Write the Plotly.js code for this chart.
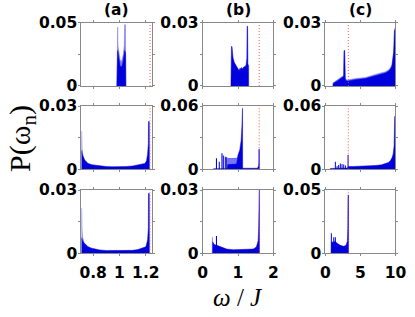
<!DOCTYPE html>
<html><head><meta charset="utf-8">
<script src="https://cdn.plot.ly/plotly-3.0.1.min.js"></script>
<style>html,body{margin:0;padding:0;background:#fff}#chart{width:415px;height:317px}</style>
</head><body><div id="chart"></div>
<script>
// ---------- data ----------
const colLabels = ['(a)', '(b)', '(c)'];
const xTickVals = [[0.8, 1, 1.2], [0, 1, 2], [0, 5, 10]];
const xTickText = [['0.8', '1', '1.2'], ['0', '1', '2'], ['0', '5', '10']];
const yMax = [0.05, 0.03, 0.03, 0.03, 0.06, 0.06, 0.03, 0.03, 0.05];
const yTopText = ['0.05', '0.03', '0.03', '0.03', '0.06', '0.06', '0.03', '0.03', '0.05'];
const redLines = [1.232, 1.60, 3.28];

// panel a1
const a1DarkX = [0.980, 0.981, 0.986, 0.992, 0.998, 1.004, 1.012, 1.020, 1.027, 1.033, 1.040, 1.046, 1.048];
const a1DarkY = [0, 0.026, 0.028, 0.024, 0.019, 0.016, 0.015, 0.016, 0.019, 0.024, 0.028, 0.026, 0];
const a1LightX = [0.980, 0.981, 0.986, 0.988, 0.995, 1.004, 1.012, 1.020, 1.029, 1.036, 1.039, 1.045, 1.048];
const a1LightY = [0, 0.0466, 0.0466, 0.032, 0.025, 0.021, 0.019, 0.021, 0.025, 0.032, 0.0484, 0.0484, 0];
// panel a2
const a2DarkX = [0.711, 0.72, 0.736, 0.761, 0.79, 0.812, 0.85, 0.9, 0.95, 1.0, 1.05, 1.1, 1.142, 1.17, 1.193, 1.205, 1.213, 1.219, 1.220, 1.226, 1.227];
const a2DarkY = [0.009, 0.0065, 0.0044, 0.0028, 0.0022, 0.002, 0.0016, 0.0013, 0.0012, 0.0012, 0.0013, 0.0016, 0.002, 0.0024, 0.0028, 0.004, 0.0071, 0.012, 0.0226, 0.0226, 0];
const a2LightX = [0.711, 0.713, 0.716, 0.72, 0.73];
const a2LightY = [0.018, 0.018, 0.010, 0.0075, 0.005];
// panel a3
const a3DarkX = [0.711, 0.72, 0.736, 0.761, 0.79, 0.812, 0.85, 0.9, 1.0, 1.1, 1.14, 1.18, 1.2, 1.213, 1.219, 1.220, 1.226, 1.227];
const a3DarkY = [0.0075, 0.0058, 0.0047, 0.0031, 0.0024, 0.002, 0.0016, 0.0013, 0.0012, 0.0014, 0.0018, 0.0025, 0.0031, 0.0063, 0.012, 0.0284, 0.0284, 0];
const a3LightX = [0.711, 0.713, 0.716, 0.72, 0.73];
const a3LightY = [0.0213, 0.0213, 0.011, 0.0075, 0.0055];
// panel b1
const b1DarkX = [0.800, 0.802, 0.815, 0.830, 0.840, 0.860, 0.900, 0.960, 1.000, 1.030, 1.060, 1.080, 1.100, 1.130, 1.160, 1.200, 1.230, 1.250, 1.258, 1.272, 1.280, 1.300, 1.302];
const b1DarkY = [0, 0.012, 0.0187, 0.0187, 0.015, 0.0133, 0.011, 0.0092, 0.0078, 0.0073, 0.0085, 0.0078, 0.0088, 0.0080, 0.0090, 0.0092, 0.0100, 0.013, 0.0283, 0.0283, 0.0105, 0.0095, 0];
// panel b2
const b2DarkX = [0.300, 0.310, 0.700, 0.710, 0.960, 1.000, 1.050, 1.090, 1.110, 1.118, 1.128, 1.132, 1.550, 1.580, 1.590, 1.592, 1.604, 1.606];
const b2DarkY = [0, 0.0006, 0.0006, 0.0045, 0.005, 0.0136, 0.0183, 0.0278, 0.040, 0.0578, 0.0578, 0.001, 0.001, 0.003, 0.006, 0.019, 0.019, 0];
const b2LightX = [0.710, 0.712, 0.960, 0.990];
const b2LightY = [0, 0.0102, 0.0104, 0.012];
const b2SpikeX = [0.39, 0.47, 0.546, 0.584, 0.64, 0.68, 0.72, 0.745, 0.77, 0.795, 0.82, 0.845, 0.87, 0.895, 0.92, 0.945];
const b2SpikeY = [0.0104, 0.0072, 0.0152, 0.013, 0.012, 0.0115, 0.0105, 0.0104, 0.0104, 0.0105, 0.0104, 0.0105, 0.0105, 0.0106, 0.0106, 0.0107];
// panel b3
const b3DarkX = [0.275, 0.30, 0.34, 0.40, 0.44, 0.54, 0.68, 0.86, 1.10, 1.33, 1.43, 1.52, 1.57, 1.585, 1.592, 1.606, 1.608];
const b3DarkY = [0.0055, 0.0050, 0.0040, 0.0038, 0.0035, 0.0027, 0.0020, 0.0017, 0.0017, 0.0017, 0.0020, 0.0030, 0.0060, 0.012, 0.030, 0.030, 0];
const b3LightX = [0.268, 0.270, 0.276, 0.285];
const b3LightY = [0, 0.0076, 0.0076, 0.005];
const b3SpikeX = [0.39];
const b3SpikeY = [0.0082];
// panel c1
const c1DarkX = [1.10, 1.12, 1.67, 2.39, 2.60, 2.66, 2.76, 2.86, 3.14, 3.34, 4.29, 5.71, 7.14, 8.57, 9.00, 9.29, 9.50, 9.63, 9.75, 9.86, 10.0];
const c1DarkY = [0, 0.0012, 0.0023, 0.0039, 0.0045, 0.0168, 0.0168, 0.0028, 0.0023, 0.0024, 0.0030, 0.0035, 0.0049, 0.0062, 0.0070, 0.0080, 0.0095, 0.0119, 0.016, 0.0264, 0.0264];
const c1LightX = [1.10, 1.12, 1.67, 2.39, 2.60, 2.86, 3.14, 4.29, 5.71, 7.14, 8.57, 9.00, 9.29, 9.50, 9.63, 9.75, 9.86, 10.0];
const c1LightY = [0, 0.0016, 0.0028, 0.0044, 0.0050, 0.0033, 0.0028, 0.0035, 0.0040, 0.0055, 0.0068, 0.0076, 0.0087, 0.0102, 0.0126, 0.0168, 0.0272, 0.0272];
// panel c2
const c2DarkX = [0.71, 0.72, 3.20, 3.25, 4.00, 5.24, 7.14, 8.00, 8.57, 9.00, 9.29, 9.50, 9.67, 9.80, 9.88, 10.0];
const c2DarkY = [0, 0.0008, 0.0012, 0.0027, 0.0027, 0.0028, 0.0036, 0.0042, 0.0052, 0.0065, 0.0084, 0.011, 0.0146, 0.022, 0.050, 0.050];
const c2SpikeX = [1.43, 1.67, 1.90, 2.14, 2.38, 2.62, 2.86, 3.24];
const c2SpikeY = [0.0072, 0.003, 0.004, 0.0055, 0.005, 0.0045, 0.0035, 0.0136];
// panel c3
const c3DarkX = [0.85, 0.87, 1.00, 1.10, 1.30, 1.50, 1.67, 2.14, 2.62, 2.95, 3.14, 3.20, 3.23, 3.31, 3.32];
const c3DarkY = [0, 0.0085, 0.0090, 0.0085, 0.0095, 0.0090, 0.0079, 0.0063, 0.0055, 0.0063, 0.0095, 0.020, 0.046, 0.046, 0];
const c3SpikeX = [0.86, 1.20, 1.43];
const c3SpikeY = [0.0158, 0.0126, 0.0126];

// ---------- styling / layout ----------
const xRanges = [[0.71, 1.243], [0, 2], [0, 10]];
const colDomains = [[0.1959, 0.3651], [0.4884, 0.6586], [0.7839, 0.9530]];
const rowDomains = [[0.7287, 0.9284], [0.4659, 0.6656], [0.2009, 0.4006]];
const spikeWidths = [0.008, 0.03, 0.14];
const DARK = '#0000dd';
const LIGHT = 'rgb(120,120,245)';

const panels = [
  {dx: a1DarkX, dy: a1DarkY, lx: a1LightX, ly: a1LightY},
  {dx: b1DarkX, dy: b1DarkY},
  {dx: c1DarkX, dy: c1DarkY, lx: c1LightX, ly: c1LightY},
  {dx: a2DarkX, dy: a2DarkY, lx: a2LightX, ly: a2LightY},
  {dx: b2DarkX, dy: b2DarkY, lx: b2LightX, ly: b2LightY, sx: b2SpikeX, sy: b2SpikeY},
  {dx: c2DarkX, dy: c2DarkY, sx: c2SpikeX, sy: c2SpikeY},
  {dx: a3DarkX, dy: a3DarkY, lx: a3LightX, ly: a3LightY},
  {dx: b3DarkX, dy: b3DarkY, lx: b3LightX, ly: b3LightY, sx: b3SpikeX, sy: b3SpikeY},
  {dx: c3DarkX, dy: c3DarkY, sx: c3SpikeX, sy: c3SpikeY}
];

const tickFont = {family: 'DejaVu Sans', size: 15.5, color: '#000', weight: 'bold'};
const traces = [];
const layout = {
  width: 415, height: 317,
  margin: {l: 0, r: 0, t: 0, b: 0},
  paper_bgcolor: '#fff', plot_bgcolor: '#fff',
  showlegend: false, barmode: 'overlay',
  shapes: [], annotations: []
};

panels.forEach((p, k) => {
  const row = Math.floor(k / 3), col = k % 3;
  const s = k === 0 ? '' : String(k + 1);
  const xa = 'x' + s, ya = 'y' + s;
  if (p.lx) traces.push({type: 'scatter', mode: 'lines', x: p.lx, y: p.ly, xaxis: xa, yaxis: ya,
    fill: 'tozeroy', fillcolor: LIGHT, line: {color: LIGHT, width: 0.5}, hoverinfo: 'skip'});
  traces.push({type: 'scatter', mode: 'lines', x: p.dx, y: p.dy, xaxis: xa, yaxis: ya,
    fill: 'tozeroy', fillcolor: DARK, line: {color: DARK, width: 0.5}, hoverinfo: 'skip'});
  if (p.sx) traces.push({type: 'bar', x: p.sx, y: p.sy, xaxis: xa, yaxis: ya,
    width: spikeWidths[col], marker: {color: DARK, line: {width: 0}}, hoverinfo: 'skip'});

  layout['xaxis' + s] = {
    domain: colDomains[col], range: xRanges[col], anchor: ya,
    showline: true, linecolor: '#888', linewidth: 1, mirror: 'ticks',
    ticks: 'outside', ticklen: 2, tickcolor: '#888',
    tickvals: xTickVals[col], ticktext: xTickText[col],
    showticklabels: row === 2, tickfont: tickFont, ticklabelstandoff: 3,
    showgrid: false, zeroline: false, fixedrange: true
  };
  layout['yaxis' + s] = {
    domain: rowDomains[row], range: [0, yMax[k]], anchor: xa,
    showline: true, linecolor: '#888', linewidth: 1, mirror: 'ticks',
    ticks: 'outside', ticklen: 2, tickcolor: '#888',
    tickvals: [0, yMax[k] / 2, yMax[k]], ticktext: ['0', ' ', yTopText[k]],
    tickfont: tickFont, ticklabelstandoff: -2,
    showgrid: false, zeroline: false, fixedrange: true
  };
  layout.shapes.push({type: 'line', xref: xa, yref: ya + ' domain',
    x0: redLines[col], x1: redLines[col], y0: 0, y1: 1,
    line: {color: 'rgba(255,60,60,0.85)', width: 1, dash: '1px,2px'}, layer: 'above'});
});

colLabels.forEach((t, c) => {
  layout.annotations.push({text: t, xref: 'paper', yref: 'paper',
    x: (colDomains[c][0] + colDomains[c][1]) / 2, y: 1 - 10 / 317, xanchor: 'center', yanchor: 'middle',
    showarrow: false, font: {family: 'DejaVu Sans', size: 15.5, color: '#000', weight: 'bold'}});
});
layout.annotations.push({text: 'P(ω<sub>n</sub>)', textangle: -90, xref: 'paper', yref: 'paper',
  x: 22 / 415, y: 1 - 139 / 317, xanchor: 'center', yanchor: 'middle', showarrow: false,
  font: {family: 'Liberation Serif', size: 30, color: '#000'}});
layout.annotations.push({text: '<i>ω</i> / <i>J</i>', xref: 'paper', yref: 'paper',
  x: 237.5 / 415, y: 1 - 297 / 317, xanchor: 'center', yanchor: 'middle', showarrow: false,
  font: {family: 'Liberation Serif', size: 25, color: '#000'}});

Plotly.newPlot('chart', traces, layout, {staticPlot: true, displayModeBar: false});
</script></body></html>
